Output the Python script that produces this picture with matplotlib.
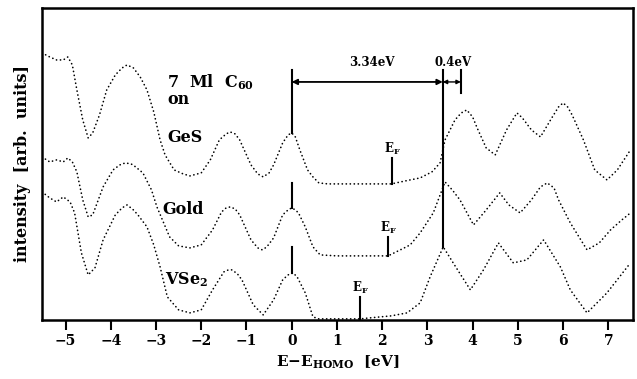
import numpy as np
import matplotlib
matplotlib.use("Agg")
import matplotlib.pyplot as plt

plt.rcParams['font.family'] = ['DejaVu Serif']
plt.rcParams['font.weight'] = 'bold'
plt.rcParams['axes.labelweight'] = 'bold'
plt.rcParams['mathtext.fontset'] = 'custom'
plt.rcParams['mathtext.rm'] = 'DejaVu Serif:bold'
plt.rcParams['mathtext.it'] = 'DejaVu Serif:bold'
plt.rcParams['mathtext.bf'] = 'DejaVu Serif:bold'

# spectra: energy (eV) and intensity (arb. units)
e_ges = [-5.52, -5.35, -5.2, -5.05, -4.95, -4.85, -4.75, -4.62, -4.5, -4.4, -4.25, -4.09,
         -3.9, -3.75, -3.64, -3.5, -3.35, -3.2, -3.05, -2.91, -2.8, -2.6, -2.4, -2.25, -2.0,
         -1.8, -1.6, -1.45, -1.36, -1.25, -1.15, -0.9, -0.75, -0.63, -0.5, -0.4, -0.2,
         -0.08, 0.0, 0.08, 0.18, 0.35, 0.47, 0.6, 0.8, 1.5,
         2.2, 2.62, 2.84, 3.1, 3.28, 3.39, 3.61, 3.75, 3.87, 4.0, 4.1, 4.3, 4.5, 4.75,
         4.98, 5.1, 5.3, 5.5, 5.75, 5.9, 6.0, 6.1, 6.2, 6.45, 6.7, 6.97, 7.2, 7.49]
i_ges = [267, 263, 260, 260, 263, 255, 230, 200, 182, 187, 205, 230,
         245, 252, 255, 252, 243, 230, 208, 180, 165, 150, 146, 144, 147,
         160, 180, 186, 188, 186, 180, 155, 146, 143, 147, 155, 177,
         185, 187, 183, 170, 150, 143, 137, 136, 136,
         136, 140, 142, 148, 157, 180, 200, 207, 210, 203, 192, 172, 165, 190,
         207, 202, 190, 183, 202, 213, 217, 213, 205, 180, 150, 140, 150, 170]

e_gold = [-5.52, -5.35, -5.2, -5.05, -4.95, -4.85, -4.75, -4.62, -4.5, -4.4, -4.17, -3.95,
          -3.8, -3.68, -3.55, -3.45, -3.29, -3.1, -2.98, -2.7, -2.5, -2.25, -2.0, -1.75,
          -1.55, -1.45, -1.36, -1.25, -1.15, -0.9, -0.75, -0.65, -0.55, -0.4, -0.2,
          -0.08, 0.0, 0.08, 0.15, 0.3, 0.47, 0.63, 1.0, 2.13, 2.4,
          2.62, 2.84, 3.13, 3.39, 3.55, 3.72, 4.02, 4.3, 4.6, 4.8, 5.05, 5.3, 5.5, 5.65,
          5.8, 5.9, 6.16, 6.53, 6.8, 7.05, 7.3, 7.49]
i_gold = [163, 158, 160, 158, 162, 158, 148, 120, 103, 105, 133, 150,
          155, 157, 156, 153, 147, 130, 113, 83, 74, 72, 75, 90,
          108, 112, 113, 111, 105, 80, 72, 70, 73, 82, 105,
          110, 112, 110, 107, 93, 73, 65, 64, 64, 70,
          75, 87, 107, 138, 130, 120, 95, 110, 127, 115, 107, 120, 133, 137,
          132, 120, 97, 70, 77, 90, 100, 107]

e_vse2 = [-5.52, -5.35, -5.2, -5.05, -4.9, -4.8, -4.65, -4.5, -4.35, -4.17, -3.9, -3.75,
          -3.64, -3.5, -3.4, -3.2, -3.05, -2.91, -2.75, -2.5, -2.25, -2.0, -1.75, -1.5,
          -1.4, -1.32, -1.2, -1.1, -0.85, -0.63, -0.4, -0.2, -0.08, 0.03, 0.12, 0.3, 0.47,
          0.6, 1.0, 1.51, 1.73, 2.2, 2.55,
          2.84, 3.06, 3.35, 3.57, 3.95, 4.24, 4.57, 4.9, 5.2, 5.57, 5.94, 6.16, 6.53,
          6.97, 7.49]
i_vse2 = [128, 122, 118, 123, 118, 107, 67, 45, 52, 80, 105, 112,
          115, 110, 105, 93, 75, 53, 23, 10, 7, 10, 30, 48,
          50, 50, 46, 40, 15, 5, 20, 40, 45, 47, 43, 27, 3,
          1, 1, 1, 2, 4, 7,
          17, 43, 73, 57, 30, 50, 77, 57, 60, 80, 53, 30, 7,
          27, 57]

# Fermi level positions (eV) and HOMO-LUMO gaps
ef_pos = [2.22, 2.14, 1.51]
gap = 3.34
shift = 0.4

fig = plt.figure(figsize=(6.37, 3.79), dpi=100)
ax = fig.add_axes([0.066, 0.156, 0.928, 0.823])

for e, i in [(e_ges, i_ges), (e_gold, i_gold), (e_vse2, i_vse2)]:
    ax.plot(e, i, color='black', linestyle=(0, (0.1, 2.3)), linewidth=1.2,
            dash_capstyle='round')

# HOMO markers
ax.plot([0, 0], [187, 250], color='black', lw=1.5)
ax.plot([0, 0], [112, 137], color='black', lw=1.5)
ax.plot([0, 0], [47, 73], color='black', lw=1.5)
# LUMO line and 0.4 eV tick
ax.plot([gap, gap], [73, 250], color='black', lw=1.5)
ax.plot([gap + shift, gap + shift], [227, 250], color='black', lw=1.5)

ax.annotate('', xy=(0, 238), xytext=(gap, 238),
            arrowprops=dict(arrowstyle='<|-|>', color='black', lw=1.3,
                            shrinkA=0, shrinkB=0, mutation_scale=8))
ax.annotate('', xy=(gap, 238), xytext=(gap + shift, 238),
            arrowprops=dict(arrowstyle='<|-|>', color='black', lw=1.0,
                            shrinkA=0, shrinkB=0, mutation_scale=6))
ax.text(1.78, 257, '3.34eV', ha='center', va='center', fontsize=8.5)
ax.text(3.57, 257, '0.4eV', ha='center', va='center', fontsize=8.5)

# Fermi level markers
ef_base = [136, 64, 1]
ef_top = [162, 83, 23]
for x, b, t in zip(ef_pos, ef_base, ef_top):
    ax.plot([x, x], [b, t], color='black', lw=1.5)
    ax.text(x, t + 9, r'E$_\mathrm{F}$', ha='center', va='center', fontsize=8.5)

# labels
ax.text(-2.75, 238, r'7  Ml  C$_{60}$', ha='left', va='center', fontsize=11.5)
ax.text(-2.75, 220, 'on', ha='left', va='center', fontsize=11.5)
ax.text(-2.75, 182, 'GeS', ha='left', va='center', fontsize=11.5)
ax.text(-2.86, 110, 'Gold', ha='left', va='center', fontsize=11.5)
ax.text(-2.8, 40, r'VSe$_2$', ha='left', va='center', fontsize=11.5)

ax.set_xlim(-5.52, 7.55)
ax.set_ylim(0, 312)
ax.set_xticks(range(-5, 8))
ax.set_xticklabels([str(v).replace('-', '\u2212') for v in range(-5, 8)], fontsize=10)
ax.set_yticks([])
ax.tick_params(axis='x', direction='out', length=7, width=1.5, pad=3)
for s in ax.spines.values():
    s.set_linewidth(1.8)

ax.set_xlabel(r'E$-$E$_\mathrm{HOMO}$  [eV]', fontsize=11, labelpad=4)
ax.set_ylabel('intensity  [arb.  units]', fontsize=11.5, labelpad=8)

fig.savefig('out.png', dpi=100)
